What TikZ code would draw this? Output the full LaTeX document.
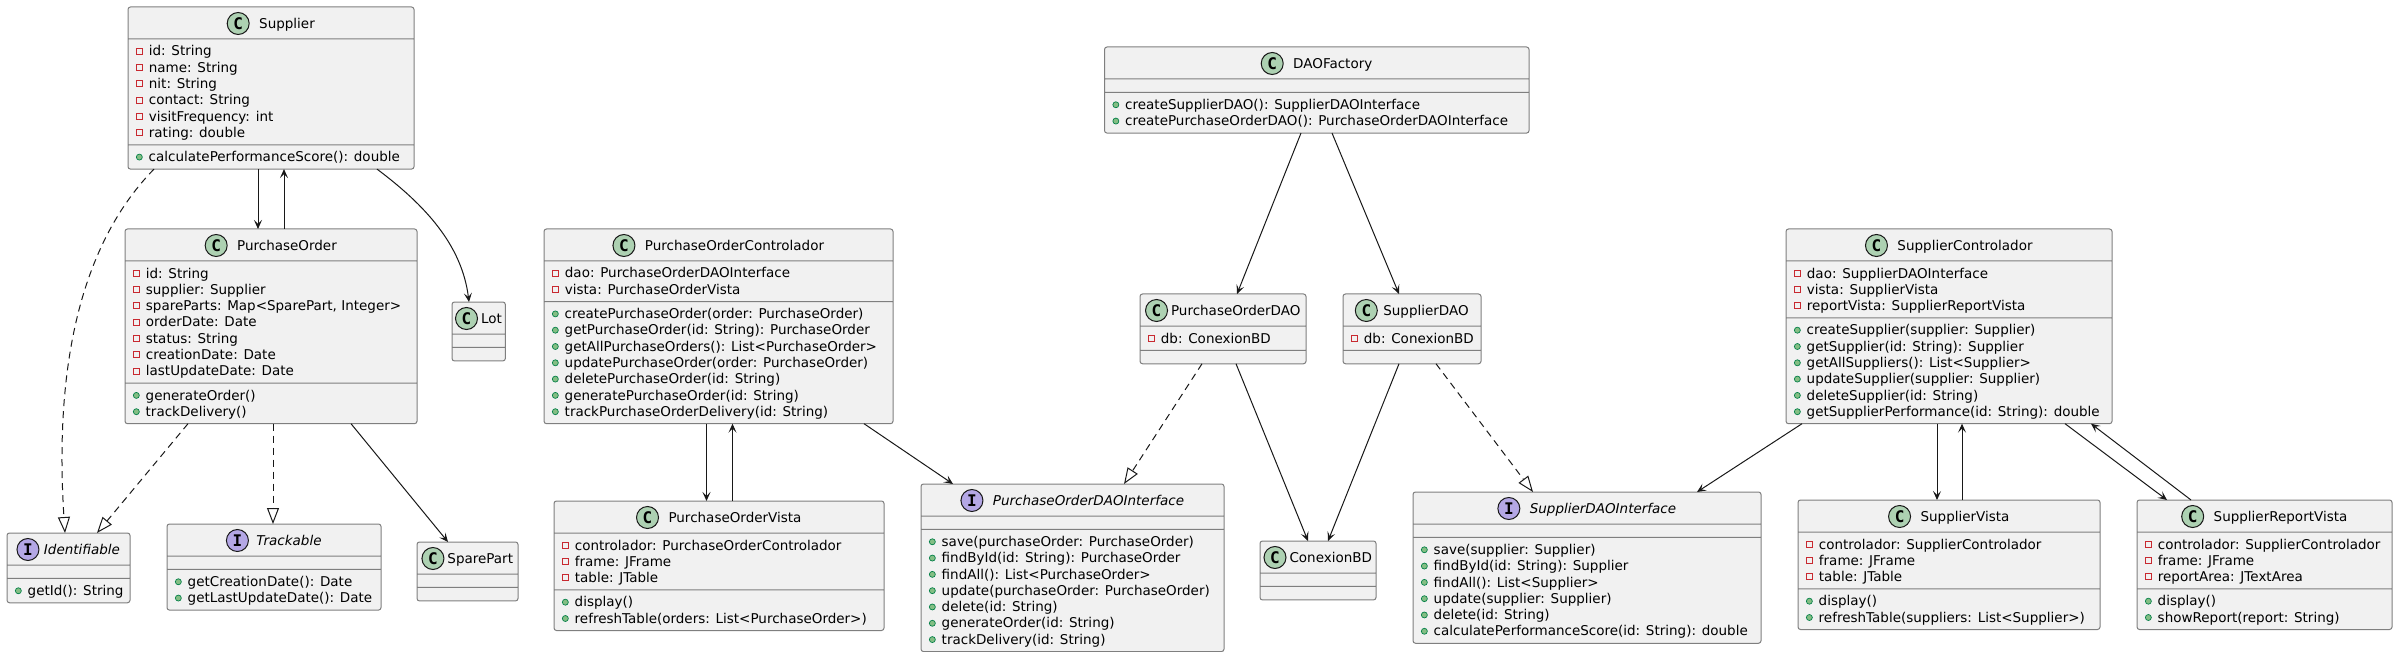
\documentclass[tikz,border=0pt]{standalone}
\usepackage{fontspec}
\setmainfont{DejaVu Sans}
\setmonofont{DejaVu Sans Mono}
\usepackage{xcolor}
\usetikzlibrary{arrows.meta,shapes.multipart}

\definecolor{boxfill}{HTML}{F1F1F1}
\definecolor{boxline}{HTML}{7F7F7F}
\definecolor{inkline}{HTML}{181818}
\definecolor{classicon}{HTML}{ADD1B2}
\definecolor{ifaceicon}{HTML}{B4A7E5}
\definecolor{privred}{HTML}{C82930}
\definecolor{pubgreen}{HTML}{038048}
\definecolor{publight}{HTML}{84BE84}

\newcommand{\rowstrut}{\rule[-3.3pt]{0pt}{16.3pt}}
\newcommand{\headstrut}{\rule[-6.5pt]{0pt}{24pt}}
\newcommand{\members}[1]{\vbox{\offinterlineskip#1}}
\newcommand{\prv}[1]{\hbox{\rowstrut\hspace*{4.5pt}\tikz[baseline=0pt]\draw[privred,line width=0.9pt,sharp corners] (0pt,1.7pt) rectangle (6pt,7.7pt);\hspace*{6pt}#1}}
\newcommand{\pbl}[1]{\hbox{\rowstrut\hspace*{4.5pt}\tikz[baseline=0pt]\draw[pubgreen,fill=publight,line width=0.7pt] (3pt,4.7pt) circle (3pt);\hspace*{6pt}#1}}

\begin{document}
\begin{tikzpicture}[x=1pt,y=-1pt,
	umlclass/.style={rectangle split,rectangle split parts=3,rectangle split part align={center,left,left},
		rectangle split empty part height=0pt,rectangle split empty part depth=0pt,
		draw=boxline,fill=boxfill,line width=1pt,rounded corners=2.5pt,inner xsep=3.5pt,inner ysep=3.5pt,
		outer sep=0pt,anchor=north west,font=\fontsize{13.5}{16.3}\selectfont},
	cicon/.style={circle,draw=inkline,fill=classicon,line width=1pt,minimum size=22pt,inner sep=0pt,
		font=\fontsize{16}{16}\selectfont\ttfamily\bfseries},
	iicon/.style={cicon,fill=ifaceicon},
	assoc/.style={color=inkline,line width=1pt,-{Stealth[length=9pt,width=8pt,inset=4pt]}},
	realize/.style={color=inkline,line width=1pt,dash pattern=on 7pt off 5pt,-{Triangle[open,length=16pt,width=12pt]}}]
	\useasboundingbox (0,0) rectangle (2398,652);

	% left part
	\node[umlclass,minimum width=286]	(supplier)	at (128,7)	{\headstrut\hspace*{32pt}Supplier%
		\nodepart{two}\members{\prv{id: String}\prv{name: String}\prv{nit: String}\prv{contact: String}\prv{visitFrequency: int}\prv{rating: double}}%
		\nodepart{three}\members{\pbl{calculatePerformanceScore(): double}}};
	\node[umlclass,minimum width=292]	(order)		at (125,229)	{\headstrut\hspace*{32pt}PurchaseOrder%
		\nodepart{two}\members{\prv{id: String}\prv{supplier: Supplier}\prv{spareParts: Map<SparePart, Integer>}\prv{orderDate: Date}\prv{status: String}\prv{creationDate: Date}\prv{lastUpdateDate: Date}}%
		\nodepart{three}\members{\pbl{generateOrder()}\pbl{trackDelivery()}}};
	\node[umlclass,minimum width=52]	(lot)		at (452,302)	{\headstrut\hspace*{25.5pt}Lot\nodepart{two}\nodepart{three}};
	\node[umlclass,minimum width=123]	(identifiable)	at (7,533)	{\headstrut\hspace*{27pt}\textit{Identifiable}%
		\nodepart{two}\nodepart{three}\members{\pbl{getId(): String}}};
	\node[umlclass,minimum width=214]	(trackable)	at (167,524)	{\headstrut\hspace*{30pt}\textit{Trackable}%
		\nodepart{two}\nodepart{three}\members{\pbl{getCreationDate(): Date}\pbl{getLastUpdateDate(): Date}}};
	\node[umlclass,minimum width=101]	(sparepart)	at (417,542)	{\headstrut\hspace*{25.5pt}SparePart\nodepart{two}\nodepart{three}};

	% purchase order side
	\node[umlclass,minimum width=349]	(orderctl)	at (544,229)	{\headstrut\hspace*{32pt}PurchaseOrderControlador%
		\nodepart{two}\members{\prv{dao: PurchaseOrderDAOInterface}\prv{vista: PurchaseOrderVista}}%
		\nodepart{three}\members{\pbl{createPurchaseOrder(order: PurchaseOrder)}\pbl{getPurchaseOrder(id: String): PurchaseOrder}\pbl{getAllPurchaseOrders(): List<PurchaseOrder>}\pbl{updatePurchaseOrder(order: PurchaseOrder)}\pbl{deletePurchaseOrder(id: String)}\pbl{generatePurchaseOrder(id: String)}\pbl{trackPurchaseOrderDelivery(id: String)}}};
	\node[umlclass,minimum width=330]	(ordervista)	at (554,501)	{\headstrut\hspace*{32pt}PurchaseOrderVista%
		\nodepart{two}\members{\prv{controlador: PurchaseOrderControlador}\prv{frame: JFrame}\prv{table: JTable}}%
		\nodepart{three}\members{\pbl{display()}\pbl{refreshTable(orders: List<PurchaseOrder>)}}};
	\node[umlclass,minimum width=303]	(orderdaoif)	at (921,484)	{\headstrut\hspace*{32pt}\textit{PurchaseOrderDAOInterface}%
		\nodepart{two}\nodepart{three}\members{\pbl{save(purchaseOrder: PurchaseOrder)}\pbl{findById(id: String): PurchaseOrder}\pbl{findAll(): List<PurchaseOrder>}\pbl{update(purchaseOrder: PurchaseOrder)}\pbl{delete(id: String)}\pbl{generateOrder(id: String)}\pbl{trackDelivery(id: String)}}};

	% dao part
	\node[umlclass,minimum width=424.5]	(factory)	at (1104.5,47)	{\headstrut\hspace*{32pt}DAOFactory%
		\nodepart{two}\nodepart{three}\members{\pbl{createSupplierDAO(): SupplierDAOInterface}\pbl{createPurchaseOrderDAO(): PurchaseOrderDAOInterface}}};
	\node[umlclass,minimum width=166]	(orderdao)	at (1140,294)	{\headstrut\hspace*{25.5pt}PurchaseOrderDAO%
		\nodepart{two}\members{\prv{db: ConexionBD}}\nodepart{three}};
	\node[umlclass,minimum width=138]	(supplierdao)	at (1343,294)	{\headstrut\hspace*{28pt}SupplierDAO%
		\nodepart{two}\members{\prv{db: ConexionBD}}\nodepart{three}};
	\node[umlclass,minimum width=116]	(conexion)	at (1260,541)	{\headstrut\hspace*{25.5pt}ConexionBD\nodepart{two}\nodepart{three}};
	\node[umlclass,minimum width=348]	(supplierdaoif)	at (1413,492)	{\headstrut\hspace*{32pt}\textit{SupplierDAOInterface}%
		\nodepart{two}\nodepart{three}\members{\pbl{save(supplier: Supplier)}\pbl{findById(id: String): Supplier}\pbl{findAll(): List<Supplier>}\pbl{update(supplier: Supplier)}\pbl{delete(id: String)}\pbl{calculatePerformanceScore(id: String): double}}};

	% supplier side
	\node[umlclass,minimum width=326]	(supplierctl)	at (1786,229)	{\headstrut\hspace*{32pt}SupplierControlador%
		\nodepart{two}\members{\prv{dao: SupplierDAOInterface}\prv{vista: SupplierVista}\prv{reportVista: SupplierReportVista}}%
		\nodepart{three}\members{\pbl{createSupplier(supplier: Supplier)}\pbl{getSupplier(id: String): Supplier}\pbl{getAllSuppliers(): List<Supplier>}\pbl{updateSupplier(supplier: Supplier)}\pbl{deleteSupplier(id: String)}\pbl{getSupplierPerformance(id: String): double}}};
	\node[umlclass,minimum width=302]	(suppliervista)	at (1798,500)	{\headstrut\hspace*{32pt}SupplierVista%
		\nodepart{two}\members{\prv{controlador: SupplierControlador}\prv{frame: JFrame}\prv{table: JTable}}%
		\nodepart{three}\members{\pbl{display()}\pbl{refreshTable(suppliers: List<Supplier>)}}};
	\node[umlclass,minimum width=255]	(reportvista)	at (2137,500)	{\headstrut\hspace*{32pt}SupplierReportVista%
		\nodepart{two}\members{\prv{controlador: SupplierControlador}\prv{frame: JFrame}\prv{reportArea: JTextArea}}%
		\nodepart{three}\members{\pbl{display()}\pbl{showReport(report: String)}}};

	% icons
	\foreach \cls in {supplier,order,lot,sparepart,orderctl,ordervista,factory,orderdao,supplierdao,conexion,supplierctl,suppliervista,reportvista}
		\node[cicon] (\cls-icon) at ([xshift=11pt,yshift=5pt]\cls.text) {C};
	\foreach \cls in {identifiable,trackable,orderdaoif,supplierdaoif}
		\node[iicon] (\cls-icon) at ([xshift=11pt,yshift=5pt]\cls.text) {I};

	% associations
	\path[assoc]	(258,0 |- supplier.south)	edge	(258,0 |- order.north)
			(284,0 |- order.north)		edge	(284,0 |- supplier.south)
			(351,0 |- order.south)		edge	(448,0 |- sparepart.north)
			(706.5,0 |- orderctl.south)	edge	(706.5,0 |- ordervista.north)
			(732.5,0 |- ordervista.north)	edge	(732.5,0 |- orderctl.south)
			(864,0 |- orderctl.south)	edge	(953,0 |- orderdaoif.north)
			(1301,0 |- factory.south)	edge	(1237,0 |- orderdao.north)
			(1332,0 |- factory.south)	edge	(1399,0 |- supplierdao.north)
			(1236,0 |- orderdao.south)	edge	(1308,0 |- conexion.north)
			(1399,0 |- supplierdao.south)	edge	(1328,0 |- conexion.north)
			(1802,0 |- supplierctl.south)	edge	(1697,0 |- supplierdaoif.north)
			(1937,0 |- supplierctl.south)	edge	(1937,0 |- suppliervista.north)
			(1962,0 |- suppliervista.north)	edge	(1962,0 |- supplierctl.south)
			(2065,0 |- supplierctl.south)	edge	(2167,0 |- reportvista.north)
			(2191,0 |- reportvista.north)	edge	(2091,0 |- supplierctl.south);
	\draw[assoc] (377,0 |- supplier.south) .. controls (425,205) and (462,245) .. (469,0 |- lot.north);

	% realizations
	\path[realize]	(188,0 |- order.south)		edge	(97,0 |- identifiable.north)
			(273,0 |- order.south)		edge	(273,0 |- trackable.north)
			(1202,0 |- orderdao.south)	edge	(1124,0 |- orderdaoif.north)
			(1436,0 |- supplierdao.south)	edge	(1533,0 |- supplierdaoif.north);
	\draw[realize] (154,0 |- supplier.south) .. controls (75,250) and (55,380) .. (65,0 |- identifiable.north);
\end{tikzpicture}
\end{document}
